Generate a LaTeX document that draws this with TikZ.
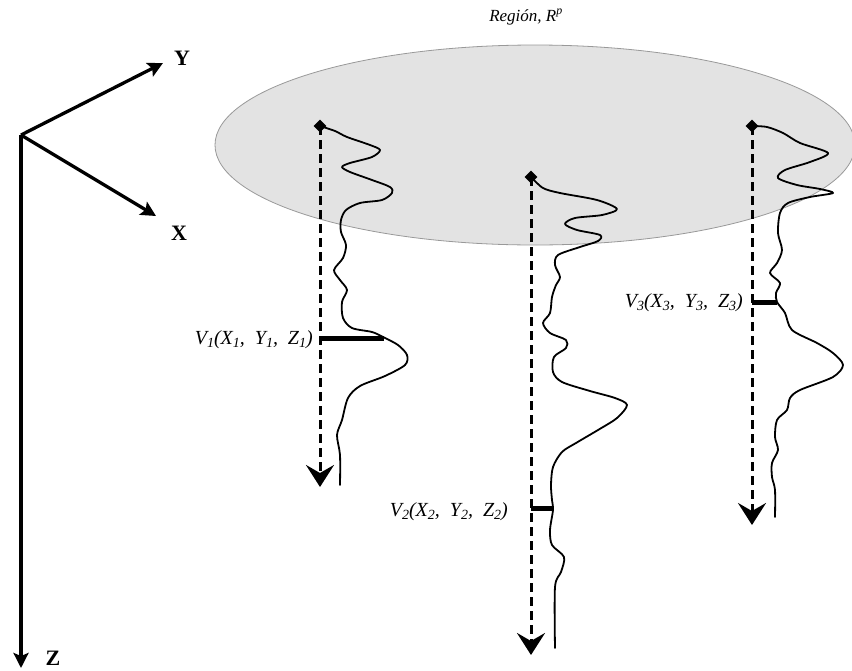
\documentclass[tikz,border=0pt]{standalone}
\usepackage{fontspec}
\setmainfont{Liberation Serif}
\usetikzlibrary{arrows.meta,shapes.geometric}

% lowered index digit, a little larger than a normal subscript
\newcommand\idx[1]{\raisebox{-0.3ex}{\fontsize{14}{14}\selectfont #1}}

\tikzset{
  axisline/.style={line width=3.3pt,-{Stealth[length=15pt,width=15pt,inset=3pt]}},
  axislabel/.style={font=\bfseries\fontsize{22}{24}\selectfont,inner sep=0pt},
  region/.style={fill=black!11,draw=black!40,line width=0.8pt},
  site/.style={diamond,fill=black,inner sep=0pt,minimum size=13pt},
  probe/.style={line width=3pt,dash pattern=on 9pt off 5pt,
    -{Stealth[length=22pt,width=28pt,inset=8pt]}},
  profile/.style={line width=1.8pt,line join=round,line cap=round},
  level/.style={line width=5pt},
  vlabel/.style={font=\itshape\fontsize{20}{22}\selectfont,inner sep=0pt,anchor=east},
  rlabel/.style={font=\itshape\fontsize{17}{19}\selectfont,inner sep=0pt}
}

\begin{document}
\begin{tikzpicture}[x=1pt,y=-1pt]
\useasboundingbox (0,0) rectangle (852,670);

% coordinate axes
\coordinate (o) at (21,135);
\coordinate (ytip) at (163,63);
\coordinate (xtip) at (156,216);
\coordinate (ztip) at (21,668);
\draw[axisline] (o) -- (ytip);
\draw[axisline] (o) -- (xtip);
\draw[axisline] (o) -- (ztip);
\node[axislabel] (ylab) at (182,58) {Y};
\node[axislabel] (xlab) at (179,233) {X};
\node[axislabel,anchor=south] (zlab) at (53,666) {Z};

% region
\begin{scope}
\clip (0,0) rectangle (852,670);
\draw[region] (535,145) ellipse [x radius=320,y radius=100];
\end{scope}
\node[rlabel] (rtitle) at (526,17) {Región, R\textsuperscript{p}};

% sampling sites
\node[site] (d1) at (320,126) {};
\node[site] (d2) at (531,177) {};
\node[site] (d3) at (752,126) {};

\coordinate (e1) at (320,487);
\coordinate (e2) at (531,655);
\coordinate (e3) at (752,525);

% vertical profiles
\draw[profile] plot[smooth,tension=0.5] coordinates {
 (d1.center) (335,131) (347,137) (370,145) (380,150) (372,157) (350,163)
 (342,167) (350,172) (372,180) (390,187) (392,193) (382,200) (360,203)
 (346,210) (341,220) (341,232) (346,245) (343,258) (334,270) (340,280)
 (347,290) (342,302) (343,318) (352,328) (372,332) (383,337) (398,345)
 (407,355) (405,365) (385,376) (360,386) (348,398) (342,420) (337,435)
 (340,455) (340,485)};

\draw[profile] plot[smooth,tension=0.5] coordinates {
 (d2.center) (543,188) (560,193) (597,200) (617,209) (602,215) (575,218)
 (565,224) (577,230) (600,235) (598,241) (580,247) (558,255) (555,265)
 (560,277) (556,285) (552,297) (550,313) (543,323) (550,333) (566,340)
 (566,348) (554,357) (553,372) (562,382) (590,391) (615,398) (627,405)
 (617,418) (598,430) (576,443) (562,452) (553,467) (551,485) (552,500)
 (553,510) (550,530) (552,545) (564,557) (561,572) (555,587) (555,648)};

\draw[profile] plot[smooth,tension=0.5] coordinates {
 (d3.center) (767,127) (783,133) (800,143) (828,153) (810,162) (785,170)
 (778,178) (797,185) (820,189) (833,193) (810,197) (788,203) (780,213)
 (778,233) (782,250) (777,263) (770,273) (780,283) (776,293) (777,302)
 (785,313) (792,330) (817,343) (833,353) (843,365) (833,377) (800,390)
 (790,398) (787,410) (777,420) (775,437) (778,450) (772,463) (772,477)
 (775,490) (775,517)};

% probes
\draw[probe] (d1.center) -- (e1);
\draw[probe] (d2.center) -- (e2);
\draw[probe] (d3.center) -- (e3);

% sampled values
\coordinate (b1) at (320,338);
\coordinate (c1) at (384,338);
\coordinate (b2) at (531,508);
\coordinate (c2) at (553,508);
\coordinate (b3) at (752,302);
\coordinate (c3) at (777,302);
\draw[level] (b1) -- (c1);
\draw[level] (b2) -- (c2);
\draw[level] (b3) -- (c3);

\node[vlabel] (v1) at (313,340) {V\idx{1}(X\idx{1}, \ Y\idx{1}, \ Z\idx{1})};
\node[vlabel] (v2) at (508,512) {V\idx{2}(X\idx{2}, \ Y\idx{2}, \ Z\idx{2})};
\node[vlabel] (v3) at (743,303) {V\idx{3}(X\idx{3}, \ Y\idx{3}, \ Z\idx{3})};
\end{tikzpicture}
\end{document}
